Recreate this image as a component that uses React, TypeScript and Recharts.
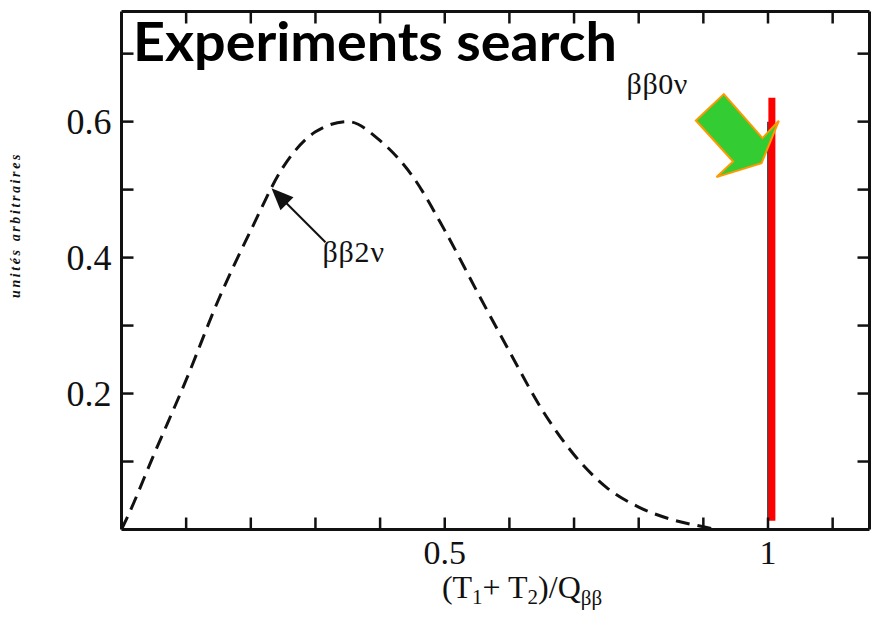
import React from 'react';
import { ComposedChart, Line, XAxis, YAxis, ReferenceDot, Customized } from 'recharts';

// summed electron energy over Q, and the two-neutrino spectrum shape
const energyRatio = [0, 0.01, 0.05, 0.1, 0.15, 0.2, 0.25, 0.3, 0.35, 0.4, 0.45, 0.5, 0.55, 0.6, 0.65, 0.7, 0.75, 0.8, 0.85, 0.9, 0.92];
const spectrum2nu = [0, 0.02, 0.11, 0.22, 0.338, 0.44, 0.533, 0.585, 0.6, 0.572, 0.52, 0.44, 0.35, 0.262, 0.177, 0.11, 0.062, 0.033, 0.015, 0.004, 0];

// neutrinoless peak sitting at the endpoint
const peakRatio = [1.006, 1.006];
const peak0nu = [0.013, 0.635];
const endpointRatio = [1, 1];
const endpointLevel = [0, 0.6];

const xTicks = [0.1, 0.2, 0.3, 0.4, 0.5, 0.6, 0.7, 0.8, 0.9, 1.0, 1.1];
const xTickLabels = ['', '', '', '', '0.5', '', '', '', '', '1', ''];
const yTicks = [0.1, 0.2, 0.3, 0.4, 0.5, 0.6, 0.7];
const yTickLabels = ['', '0.2', '', '0.4', '', '0.6', ''];

const curveData = energyRatio.map((x, i) => ({ x, y: spectrum2nu[i] }));
const peakData = peakRatio.map((x, i) => ({ x, y: peak0nu[i] }));
const endpointData = endpointRatio.map((x, i) => ({ x, y: endpointLevel[i] }));

const serif = '"Liberation Serif", "DejaVu Serif", serif';
const ink = '#111';
const TICK = 12;

const BottomTick = ({ x, y, index }: any) => (
  <g>
    <line x1={x} x2={x} y1={y} y2={y - TICK} stroke={ink} strokeWidth={2.5} />
    {xTickLabels[index] && (
      <text x={x} y={y + 34} textAnchor="middle" fontSize={34} fontFamily={serif} fill={ink}>
        {xTickLabels[index]}
      </text>
    )}
  </g>
);

const TopTick = ({ x, y }: any) => (
  <line x1={x} x2={x} y1={y} y2={y + TICK} stroke={ink} strokeWidth={2.5} />
);

const LeftTick = ({ x, y, index }: any) => (
  <g>
    <line x1={x} x2={x + TICK} y1={y} y2={y} stroke={ink} strokeWidth={2.5} />
    {yTickLabels[index] && (
      <text x={x - 10} y={y + 12} textAnchor="end" fontSize={36} fontFamily={serif} fill={ink}>
        {yTickLabels[index]}
      </text>
    )}
  </g>
);

const RightTick = ({ x, y }: any) => (
  <line x1={x} x2={x - TICK} y1={y} y2={y} stroke={ink} strokeWidth={2.5} />
);

// small pointer from the "ββ2ν" caption to the curve
const TwoNuPointer = ({ cx, cy }: any) => (
  <g>
    <line x1={cx + 12} y1={cy + 12} x2={cx + 54} y2={cy + 54} stroke={ink} strokeWidth={2} />
    <polygon points={`${cx},${cy} ${cx + 9},${cy + 22} ${cx + 22},${cy + 9}`} fill={ink} />
    <text x={cx + 51} y={cy + 74} fontSize={30} letterSpacing={0.8} fontFamily={serif} fill={ink}>ββ2ν</text>
  </g>
);

// green block arrow pointing at the 0ν line
const ZeroNuArrow = ({ cx, cy }: any) => {
  const pts = [
    [-37.7, -69], [1, -25], [17.3, -42.3], [0, 0], [-45, 14], [-28.4, -1.6], [-65.7, -42.6],
  ].map(([dx, dy]) => `${cx + dx},${cy + dy}`).join(' ');
  return (
    <g>
      <polygon points={pts} fill="#33cc33" stroke="#ff9900" strokeWidth={2} strokeLinejoin="miter" />
      <text x={cx - 135} y={cy - 69} fontSize={30} letterSpacing={0.6} fontFamily={serif} fill={ink}>ββ0ν</text>
    </g>
  );
};

const Captions = () => (
  <g>
    <text x={133} y={61} fontSize={54} fontWeight={700} fontFamily='Lato, "Open Sans", sans-serif'
      fill="#000" textLength={484} lengthAdjust="spacingAndGlyphs">
      Experiments search
    </text>
    <text x={522} y={598} textAnchor="middle" fontSize={32} fontFamily={serif} fill={ink}>
      (T<tspan fontSize={21} dy={6}>1</tspan>
      <tspan dy={-6}>+ T</tspan><tspan fontSize={21} dy={6}>2</tspan>
      <tspan dy={-6}>)/Q</tspan><tspan fontSize={21} dy={7}>ββ</tspan>
    </text>
    <text transform="translate(20 225) rotate(-90)" textAnchor="middle" fontSize={14} fontStyle="italic"
      fontWeight={700} letterSpacing={2.6} fontFamily={serif} fill={ink}>
      unités arbitraires
    </text>
  </g>
);

const App = () => (
  <div style={{ position: 'absolute', left: 0, top: 0, width: 877, height: 619, background: '#fff' }}>
    <ComposedChart width={877} height={619} margin={{ top: 10.5, right: 6.5, bottom: 49.5, left: 61.5 }}>
      <XAxis dataKey="x" type="number" domain={[0, 1.157]} ticks={xTicks} interval={0} allowDataOverflow
        height={40} tickSize={0} tickMargin={0} tickLine={false} tick={<BottomTick />}
        axisLine={{ stroke: ink, strokeWidth: 3 }} />
      <XAxis xAxisId="top" dataKey="x" orientation="top" type="number" domain={[0, 1.157]} ticks={xTicks}
        interval={0} allowDataOverflow height={1} tickSize={0} tickMargin={0} tickLine={false}
        tick={<TopTick />} axisLine={{ stroke: ink, strokeWidth: 3 }} />
      <YAxis type="number" domain={[0, 0.762]} ticks={yTicks} interval={0} allowDataOverflow
        width={60} tickSize={0} tickMargin={0} tickLine={false} tick={<LeftTick />}
        axisLine={{ stroke: ink, strokeWidth: 3 }} />
      <YAxis yAxisId="right" orientation="right" type="number" domain={[0, 0.762]} ticks={yTicks}
        interval={0} allowDataOverflow width={1} tickSize={0} tickMargin={0} tickLine={false}
        tick={<RightTick />} axisLine={{ stroke: ink, strokeWidth: 3 }} />
      <Line data={curveData} dataKey="y" type="monotone" stroke={ink} strokeWidth={3}
        strokeDasharray="14 8" dot={false} activeDot={false} isAnimationActive={false} />
      {/* endpoint line sits on the mirrored axes so they get drawn too */}
      <Line data={endpointData} dataKey="y" xAxisId="top" yAxisId="right" type="linear" stroke={ink}
        strokeWidth={1.5} dot={false} activeDot={false} isAnimationActive={false} />
      <ReferenceDot x={0.232} y={0.502} shape={TwoNuPointer} />
      <ReferenceDot x={0.99} y={0.539} shape={ZeroNuArrow} />
      <Line data={peakData} dataKey="y" type="linear" stroke="#ff0000" strokeWidth={7}
        dot={false} activeDot={false} isAnimationActive={false} />
      <Customized component={Captions} />
    </ComposedChart>
  </div>
);

export default App;
